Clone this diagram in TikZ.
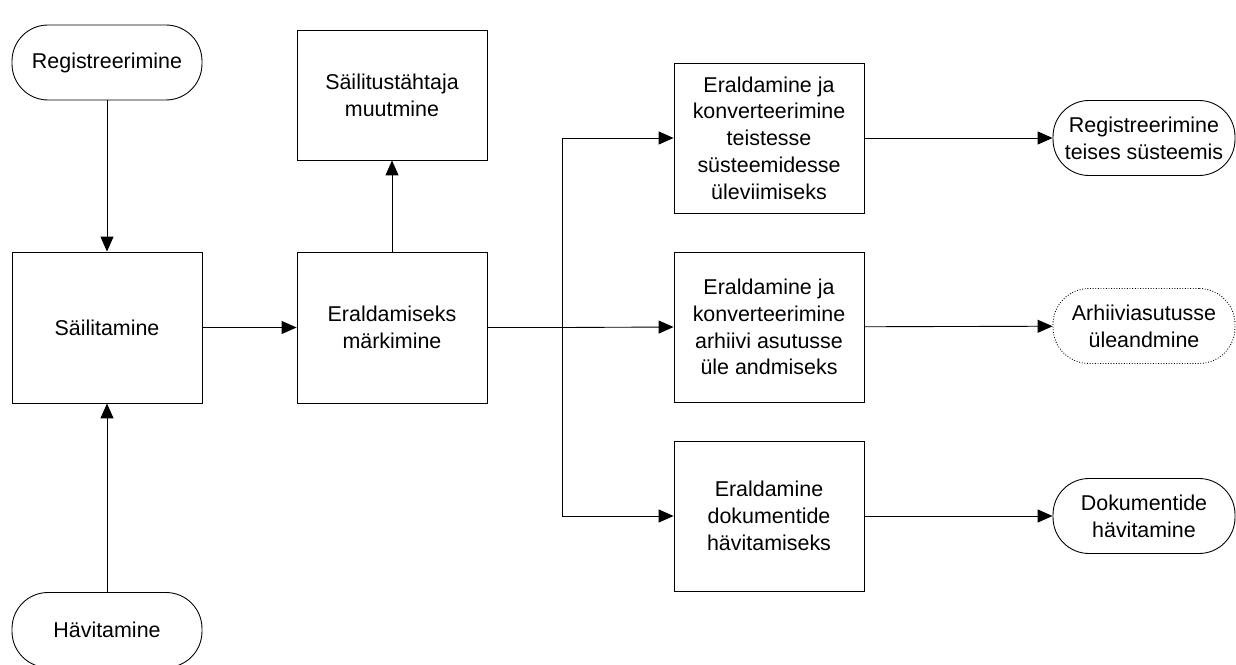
\documentclass[tikz,border=0pt]{standalone}
\usepackage{fontspec}
\setmainfont{Liberation Sans}
\usetikzlibrary{arrows.meta,calc}

\begin{document}
\begin{tikzpicture}[x=0.02cm,y=-0.02cm,
    font=\fontsize{12.2}{15.2}\selectfont,
    process/.style={draw, line width=0.5pt, minimum width=3.8cm, minimum height=3cm, align=center, inner sep=2pt},
    terminal/.style={draw, line width=0.5pt, rounded corners=0.72cm, minimum width=3.8cm, minimum height=1.5cm, align=center, inner sep=2pt},
    flow/.style={line width=0.5pt, -{Triangle[length=0.3cm,width=0.26cm]}}]
			\useasboundingbox (0,0) rectangle (1236,665);
			% Left column
			\node[terminal] (reg) at (107,62.5) {Registreerimine};
			\node[process, minimum height=3.02cm] (sail) at (107,327.5) {Säilitamine};
			\node[terminal] (havi) at (107,630) {Hävitamine};
			
			% Middle column
			\node[process, minimum height=3.02cm] (mark) at (392,327.5) {Eraldamiseks\\märkimine};
			\node[process, minimum height=2.6cm] (muut) at (392,95) {Säilitustähtaja\\muutmine};
			
			% Separation boxes
			\node[process] (konvsys) at (769,138) {Eraldamine ja\\konverteerimine\\teistesse\\süsteemidesse\\üleviimiseks};
			\node[process] (konvarh) at (769,327) {Eraldamine ja\\konverteerimine\\arhiivi asutusse\\üle andmiseks};
			\node[process] (eraldhav) at (769,516) {Eraldamine\\dokumentide\\hävitamiseks};
			
			% End points
			\node[terminal, minimum width=3.64cm] (regsys) at (1144,138) {Registreerimine\\teises süsteemis};
			\node[terminal, minimum width=3.64cm, densely dotted] (arh) at (1144,326) {Arhiiviasutusse\\üleandmine};
			\node[terminal, minimum width=3.64cm] (dokhav) at (1144,516) {Dokumentide\\hävitamine};
			
			% Connectors
			\draw[flow] (reg) -- (sail);
			\draw[flow] (havi) -- (sail);
			\draw[flow] (sail) -- (mark);
			\draw[flow] (mark) -- (muut);
			\coordinate (split) at (562,327.5);
			\draw[line width=0.5pt] (mark.east) -- (split);
			\draw[flow] (split) |- (konvsys.west);
			\draw[flow] (split) -- (konvarh.west);
			\draw[flow] (split) |- (eraldhav.west);
			\draw[flow] (konvsys) -- (regsys);
			\draw[flow] (konvarh) -- (arh);
			\draw[flow] (eraldhav) -- (dokhav);
		\end{tikzpicture}
\end{document}
